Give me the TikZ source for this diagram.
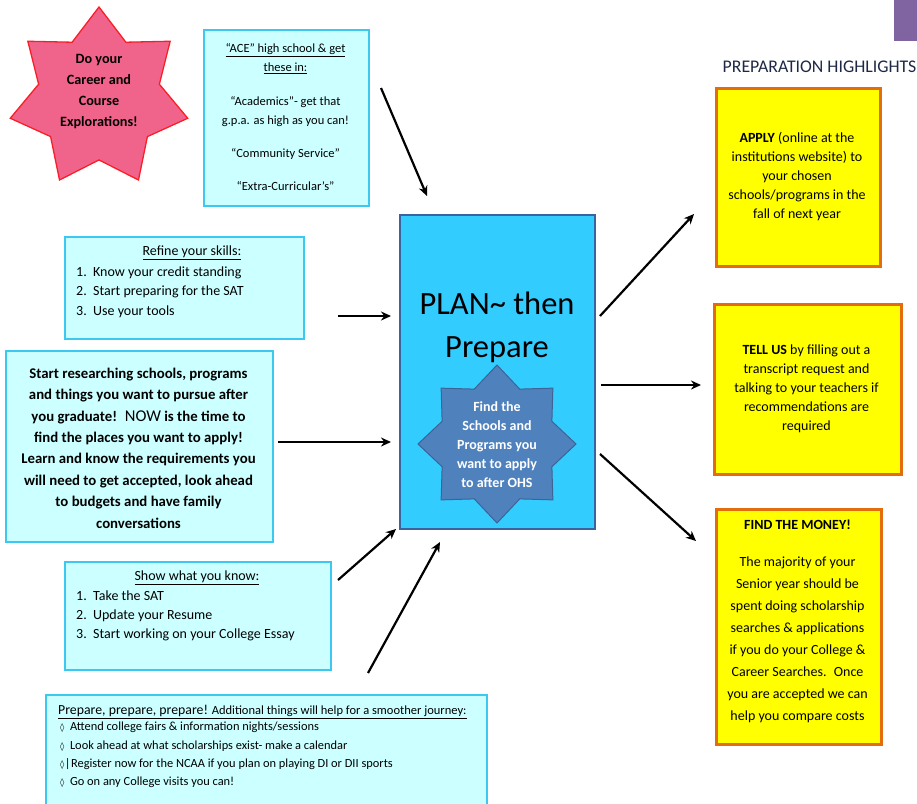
\documentclass[tikz,border=0pt]{standalone}
\usepackage{fontspec}
\setmainfont{Carlito}
\newfontfamily\djv{DejaVu Sans}
\usetikzlibrary{shapes.geometric,arrows.meta}
\definecolor{lcyan}{RGB}{204,255,255}
\definecolor{lcyanb}{RGB}{60,200,240}
\definecolor{ccyan}{RGB}{51,204,255}
\definecolor{cborder}{RGB}{58,100,160}
\definecolor{sblue}{RGB}{79,129,189}
\definecolor{sblueb}{RGB}{60,100,150}
\definecolor{pinkc}{RGB}{240,100,140}
\definecolor{redb}{RGB}{250,30,40}
\definecolor{ybox}{RGB}{255,255,0}
\definecolor{ybord}{RGB}{228,108,10}
\definecolor{purp}{RGB}{128,100,162}
\definecolor{navy}{RGB}{30,40,70}
\newcommand{\fs}[2]{\fontsize{#1}{#2}\selectfont}
\newcommand{\dmd}{{\djv\fontsize{8.5}{8.5}\selectfont ◊}}
\begin{document}
\begin{tikzpicture}[x=1pt,y=-1pt,
  lbox/.style={draw=lcyanb, fill=lcyan, line width=2pt, anchor=north west, inner sep=0},
  ybx/.style={draw=ybord, fill=ybox, line width=2.5pt, anchor=north west, inner sep=0},
  txt/.style={inner sep=0, align=center, text=black},
  arr/.style={line width=2.2pt, -{Stealth[length=10pt,width=9pt]}}]
\useasboundingbox (0,0) rectangle (917,803);

% purple corner
\node[fill=purp, minimum width=24, minimum height=41, anchor=north west, inner sep=0] (purple) at (894,0) {};

% pink star
\node[star, star points=7, star point ratio=1.47, minimum size=182, draw=redb, fill=pinkc, line width=1.3pt, inner sep=0] (pstar) at (99,98) {};
\node[txt, font=\bfseries\fs{14.2}{21}] (pstart) at (99,92) {Do your\\Career and\\Course\\Explorations!};

% ACE box
\node[lbox, minimum width=165, minimum height=176] (ace) at (203,29) {};
\node[txt, font=\fs{12.5}{19}] (acet) at (285.5,117) {\underline{“ACE” high school \& get}\\\underline{these in:}\\[15pt]“Academics”- get that\\g.p.a. as high as you can!\\[14pt]“Community Service”\\[14pt]“Extra-Curricular’s”};

% Refine box
\node[lbox, minimum width=239, minimum height=102] (refine) at (64,236) {};
\node[txt, font=\fs{14}{19.5}] (refineh) at (192,253) {\underline{Refine your skills:}};
\node[txt, align=left, anchor=west, font=\fs{14}{19.5}] (refinet) at (76,292) {1.~~Know your credit standing\\2.~~Start preparing for the SAT\\3.~~Use your tools};

% Start researching box
\node[lbox, minimum width=267, minimum height=191] (research) at (5,350) {};
\node[txt, font=\bfseries\fs{14.8}{21.4}] (researcht) at (138.5,448) {Start researching schools, programs\\and things you want to pursue after\\you graduate!~ {\mdseries\fs{16.5}{21.4}NOW} is the time to\\find the places you want to apply!\\Learn and know the requirements you\\will need to get accepted, look ahead\\to budgets and have family\\conversations};

% Show box
\node[lbox, minimum width=266, minimum height=108] (show) at (64,561) {};
\node[txt, font=\fs{14}{19}] (showh) at (197,578) {\underline{Show what you know:}};
\node[txt, align=left, anchor=west, font=\fs{14}{19}] (showt) at (76,616) {1.~~Take the SAT\\2.~~Update your Resume\\3.~~Start working on your College Essay};

% Prepare box
\node[lbox, minimum width=441, minimum height=120] (prep) at (45,694) {};
\node[txt, anchor=west, font=\fs{12.5}{18}] (preph) at (58,712) {\underline{{\fs{13.8}{18}Prepare, prepare, prepare!} Additional things will help for a smoother journey:}};
\node[txt, align=left, anchor=north west, font=\fs{12.4}{18.3}] (prept) at (60,722) {\dmd~~Attend college fairs \& information nights/sessions\\\dmd~~Look ahead at what scholarships exist- make a calendar\\\dmd\kern0.5pt|\kern0.5pt Register now for the NCAA if you plan on playing DI or DII sports\\\dmd~~Go on any College visits you can!};

% central box
\node[draw=cborder, fill=ccyan, line width=2pt, minimum width=195, minimum height=314, anchor=north west, inner sep=0] (plan) at (399,214) {};
\node[txt, font=\fs{32.5}{43}] (plant) at (497,327) {PLAN\textasciitilde{} then\\Prepare};
\node[star, star points=8, star point ratio=1.33, minimum size=158, draw=sblueb, fill=sblue, line width=1pt, inner sep=0] (bstar) at (497,444) {};
\node[txt, text=white, font=\bfseries\fs{14}{19}] (bstart) at (497,445) {Find the\\Schools and\\Programs you\\want to apply\\to after OHS};

% highlights
\node[txt, text=navy, font=\fs{17.8}{20}] (hl) at (819.5,67) {PREPARATION HIGHLIGHTS};
\node[ybx, minimum width=164, minimum height=178] (y1) at (715,87) {};
\node[txt, font=\fs{14}{19}] (y1t) at (797,177) {\textbf{APPLY} (online at the\\institutions website) to\\your chosen\\schools/programs in the\\fall of next year};
\node[ybx, minimum width=187, minimum height=170] (y2) at (713,303) {};
\node[txt, font=\fs{14}{19}] (y2t) at (806.5,389) {\textbf{TELL US} by filling out a\\transcript request and\\talking to your teachers if\\recommendations are\\required};
\node[ybx, minimum width=165, minimum height=235] (y3) at (715,508) {};
\node[txt, font=\fs{14}{22}] (y3t) at (797.5,621) {\textbf{FIND THE MONEY!}\\[15pt]The majority of your\\Senior year should be\\spent doing scholarship\\searches \& applications\\if you do your College \&\\Career Searches.~ Once\\you are accepted we can\\help you compare costs};

% arrow ends
\coordinate (a1s) at (381,88);  \coordinate (a1e) at (427,196);
\coordinate (a2s) at (338,316); \coordinate (a2e) at (391,316);
\coordinate (a3s) at (278,442); \coordinate (a3e) at (391,442);
\coordinate (a4s) at (338,580); \coordinate (a4e) at (396,529);
\coordinate (a5s) at (368,673); \coordinate (a5e) at (440,542);
\coordinate (a6s) at (600,316); \coordinate (a6e) at (694,214);
\coordinate (a7s) at (601,385); \coordinate (a7e) at (701,385);
\coordinate (a8s) at (600,454); \coordinate (a8e) at (696,541);
\foreach \i in {1,...,8} \draw[arr] (a\i s) -- (a\i e);
\end{tikzpicture}
\end{document}
